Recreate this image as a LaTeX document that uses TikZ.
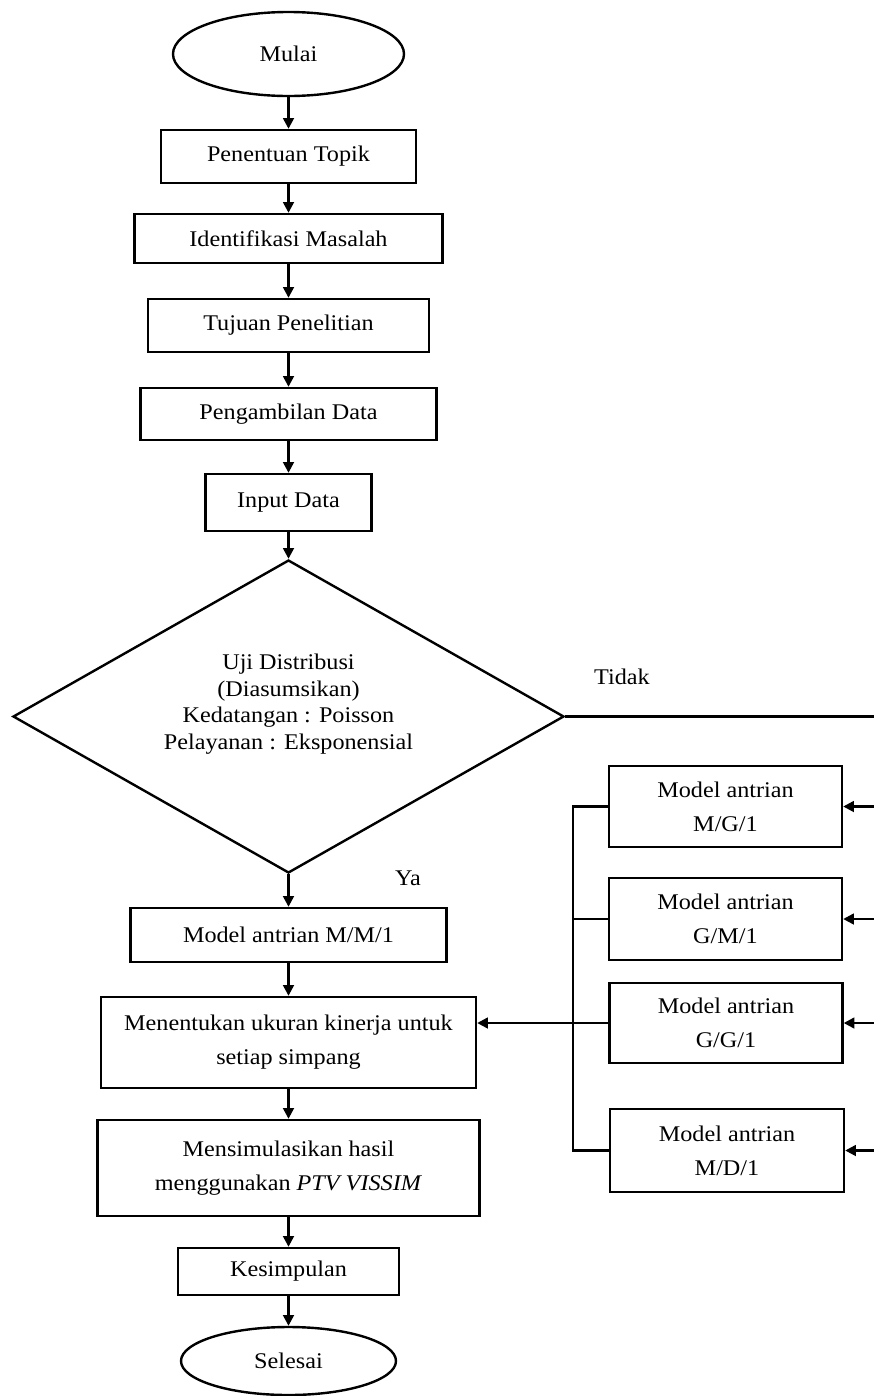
\documentclass[tikz,border=0pt]{standalone}
\usepackage{fontspec}
\setmainfont{Liberation Serif}[FakeStretch=1.08]
\usetikzlibrary{shapes.geometric,arrows.meta}
\begin{document}
\begin{tikzpicture}[x=0.75pt,y=-0.75pt,
  line width=1.8pt,
  font=\fontsize{16.8}{25.5}\selectfont,
  sz/.style 2 args={minimum width=#1*0.75pt, minimum height=#2*0.75pt, inner sep=0pt},
  proc/.style={draw, rectangle, align=center},
  term/.style={draw, ellipse},
  arr/.style={-{Triangle[length=8pt,width=8pt]}},
  lbl/.style={inner sep=0pt}]
\useasboundingbox (0,0) rectangle (874,1396);

% main column
\node[term, sz={231}{84}] (mulai) at (288.5,54) {Mulai};
\node[proc, sz={255}{53}] (topik) at (288.5,156.5) {Penentuan Topik};
\node[proc, sz={308}{49}] (ident) at (288.5,238.5) {Identifikasi Masalah};
\node[proc, sz={281}{53}] (tujuan) at (288.5,325.5) {Tujuan Penelitian};
\node[proc, sz={296}{52}] (ambil) at (288.5,414) {Pengambilan Data};
\node[proc, sz={166}{57}] (input) at (288.5,502.5) {Input Data};
\node[diamond, draw, sz={551}{313}] (uji) at (288.5,716.5) {};
\node[align=center, inner sep=0pt, font=\fontsize{16.8}{20}\selectfont] (ujitxt) at (288.5,704) {Uji Distribusi\\(Diasumsikan)\\Kedatangan : Poisson\\Pelayanan : Eksponensial};
\node[proc, sz={316}{54}] (mm1) at (288.5,935) {Model antrian M/M/1};
\node[proc, sz={375}{91}] (tentu) at (288.5,1042.5) {Menentukan ukuran kinerja untuk\\setiap simpang};
\node[proc, sz={382}{96}] (simul) at (288.5,1168) {Mensimulasikan hasil\\menggunakan \textit{PTV VISSIM}};
\node[proc, sz={221}{47}] (kesim) at (288.5,1271.5) {Kesimpulan};
\node[term, sz={215}{68}] (selesai) at (288.5,1361) {Selesai};

% right column
\node[proc, sz={233}{81}] (mg1) at (725.5,806.5) {Model antrian\\M/G/1};
\node[proc, sz={233}{82}] (gm1) at (725.5,919) {Model antrian\\G/M/1};
\node[proc, sz={233}{80}] (gg1) at (726,1023) {Model antrian\\G/G/1};
\node[proc, sz={234}{83}] (md1) at (727,1150.5) {Model antrian\\M/D/1};

% labels
\node[lbl] (tidak) at (622,677) {Tidak};
\node[lbl] (ya) at (408,878) {Ya};

% main arrows
\draw[arr] (mulai) -- (topik);
\draw[arr] (topik) -- (ident);
\draw[arr] (ident) -- (tujuan);
\draw[arr] (tujuan) -- (ambil);
\draw[arr] (ambil) -- (input);
\draw[arr] (input) -- (uji);
\draw[arr] (uji) -- (mm1);
\draw[arr] (mm1) -- (tentu);
\draw[arr] (tentu) -- (simul);
\draw[arr] (simul) -- (kesim);
\draw[arr] (kesim) -- (selesai);

% Tidak branch
\coordinate (r0) at (874,716.5);
\draw (uji.east) -- (r0);
\coordinate (r1) at (874,806.5);
\coordinate (r2) at (874,919);
\coordinate (r3) at (874,1023);
\coordinate (r4) at (874,1150.5);
\draw[arr] (r1) -- (mg1.east);
\draw[arr] (r2) -- (gm1.east);
\draw[arr] (r3) -- (gg1.east);
\draw[arr] (r4) -- (md1.east);

% bracket on left of model boxes
\coordinate (b1) at (573,806.5);
\coordinate (b2) at (573,919);
\coordinate (b4) at (573,1150.5);
\draw (mg1.west) -- (b1) -- (b4) -- (md1.west);
\draw (b2) -- (gm1.west);
\draw[arr] (gg1.west) -- (gg1.west -| tentu.east);
\end{tikzpicture}
\end{document}
